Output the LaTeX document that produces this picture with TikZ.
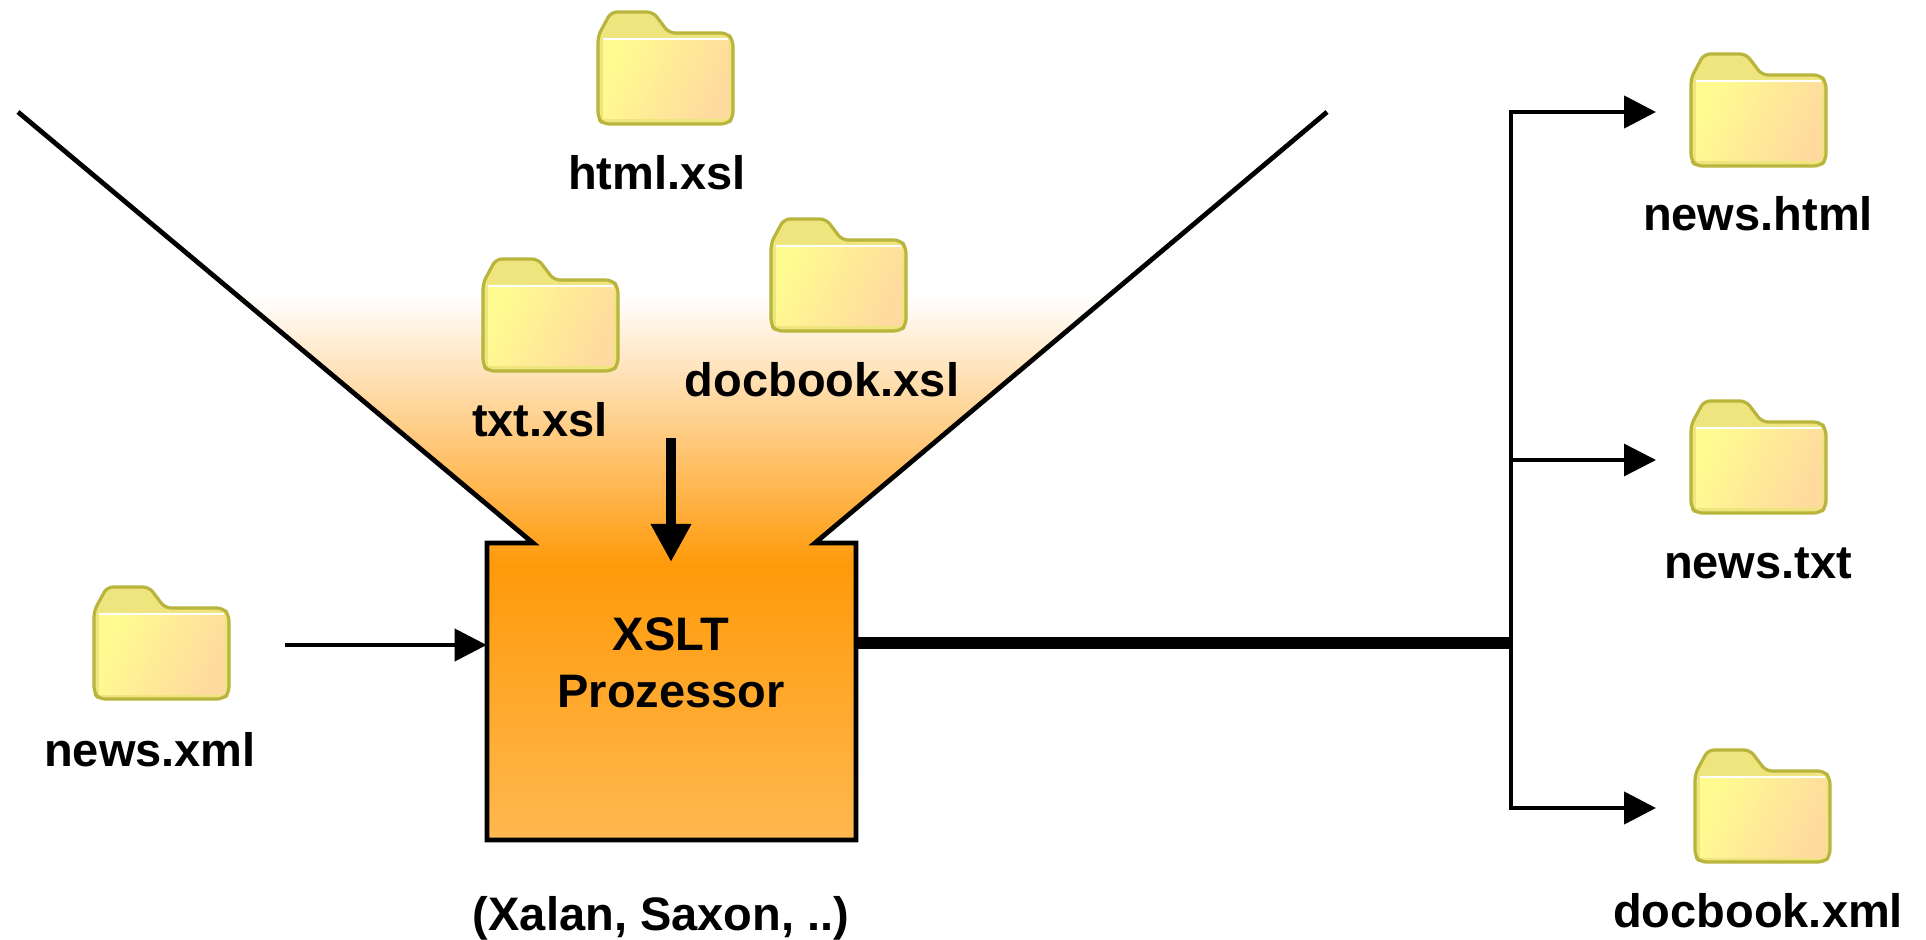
\documentclass[tikz,border=0pt]{standalone}
\usepackage{fontspec}
\setmainfont{Liberation Sans}
\usetikzlibrary{arrows.meta}

\definecolor{procorange}{HTML}{FF9A0A}
\definecolor{procpale}{HTML}{FFB850}
\definecolor{folderedge}{HTML}{B8B43C}
\definecolor{foldertab}{HTML}{EFE57E}
\definecolor{folderleft}{HTML}{FFFB90}
\definecolor{folderright}{HTML}{FFDA9E}

\tikzset{
    pics/folder/.style={code={
        \draw[folderedge, line width=1.6pt, line join=round, rounded corners=3pt, fill=foldertab] (1,26) -- (14,2) -- (56,2) -- (72,23) -- (130,23) -- (136,30) -- (136,108) -- (130,114) -- (6,114) -- (1,108) -- cycle; % tab and outline
        \shade[left color=folderleft, right color=folderright, shading angle=65] (6,30) rectangle (132,109); % front
        \draw[white, line width=1pt] (6,29) -- (131,29); % highlight
    }},
}

\begin{document}
\begin{tikzpicture}[x=0.5pt, y=-0.5pt,
    flabel/.style={font=\bfseries\fontsize{23.5}{28.5}\selectfont, anchor=base, inner sep=0pt},
    outline/.style={line width=2.4pt, line join=miter},
    thin arrow/.style={line width=2.2pt, -{Triangle[length=16pt, width=16pt]}},
    main arrow/.style={line width=5pt, -{Triangle[length=19pt, width=19pt]}}]

    \useasboundingbox (0,0) rectangle (1926,940);

    % funnel and box background
    \begin{scope}
        \clip (18,112) -- (533,543) -- (487,543) -- (487,840) -- (856,840) -- (856,543) -- (815,543) -- (1327,112) -- cycle;
        \shade[top color=white, bottom color=procorange] (0,295) rectangle (1400,565);
        \shade[top color=procorange, bottom color=procpale] (0,565) rectangle (1400,841);
    \end{scope}
    \draw[outline] (18,112) -- (533,543) -- (487,543) -- (487,840) -- (856,840) -- (856,543) -- (815,543) -- (1327,112);

    \node[minimum width=184.5pt, minimum height=148.5pt, inner sep=0pt] (proc) at (671.5,691.5) {};
    \node[flabel] (proctop) at (671,650) {XSLT};
    \node[flabel] (procbot) at (671,707) {Prozessor};
    \node[flabel] (engines) at (661,930) {(Xalan, Saxon, ..)};

    \pic (htmlfolder) at (597,10) {folder};
    \pic (txtfolder) at (482,257) {folder};
    \pic (docbookfolder) at (770,217) {folder};
    \pic (xmlfolder) at (93,585) {folder};
    \pic (htmlout) at (1690,52) {folder};
    \pic (txtout) at (1690,399) {folder};
    \pic (docbookout) at (1694,748) {folder};

    \node[flabel] (htmlxsl) at (657,190) {html.xsl};
    \node[flabel] (txtxsl) at (540,437) {txt.xsl};
    \node[flabel] (docbookxsl) at (822,397) {docbook.xsl};
    \node[flabel] (newsxml) at (150,766) {news.xml};
    \node[flabel] (newshtml) at (1758,231) {news.html};
    \node[flabel] (newstxt) at (1758,578) {news.txt};
    \node[flabel] (docbookxml) at (1758,927) {docbook.xml};

    \coordinate (xmlstart) at (285,645);
    \coordinate (xslstart) at (671,438);
    \coordinate (xslend) at (671,562);
    \coordinate (bus) at (1511,643);
    \coordinate (bustop) at (1511,112);
    \coordinate (busmid) at (1511,460);
    \coordinate (busbot) at (1511,808);
    \coordinate (tiptop) at (1656,112);
    \coordinate (tipmid) at (1656,460);
    \coordinate (tipbot) at (1656,808);

    \draw[thin arrow] (xmlstart) -- (xmlstart -| proc.west);
    \draw[main arrow] (xslstart) -- (xslend);
    \draw[line width=6pt] (bus -| proc.east) -- (bus); % output of processor
    \draw[line width=2.2pt, line cap=rect] (bustop) -- (busbot);
    \draw[thin arrow] (bustop) -- (tiptop);
    \draw[thin arrow, line width=1.6pt] (busmid) -- (tipmid);
    \draw[thin arrow] (busbot) -- (tipbot);
\end{tikzpicture}
\end{document}
